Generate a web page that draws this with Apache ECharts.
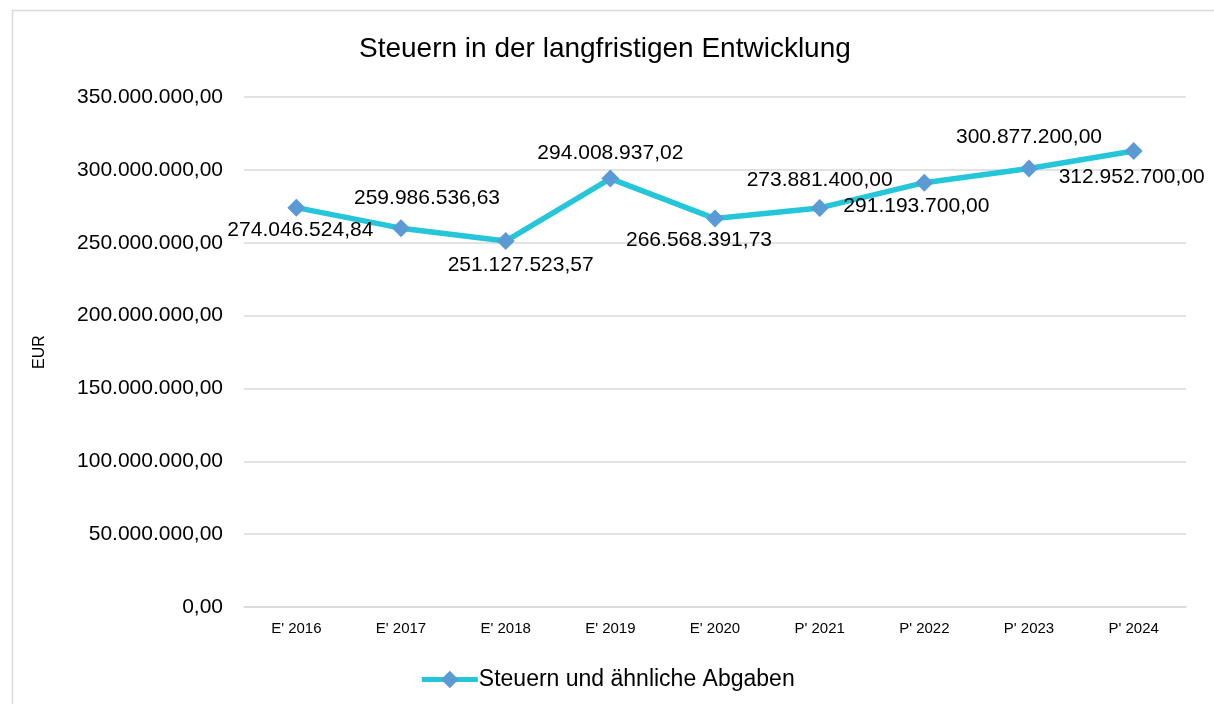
<!DOCTYPE html>
<html>
<head>
<meta charset="utf-8">
<script src="https://cdn.jsdelivr.net/npm/echarts@6/dist/echarts.min.js"></script>
<style>
  html, body { margin: 0; padding: 0; background: #fff; }
  #chart { width: 1214px; height: 704px; }
</style>
</head>
<body>
<div id="chart"></div>
<script>
// Daten
const categories = ["E' 2016", "E' 2017", "E' 2018", "E' 2019", "E' 2020", "P' 2021", "P' 2022", "P' 2023", "P' 2024"];
const steuern = [274046524.84, 259986536.63, 251127523.57, 294008937.02, 266568391.73, 273881400.00, 291193700.00, 300877200.00, 312952700.00];
const seriesName = 'Steuern und ähnliche Abgaben';
const titleText = 'Steuern in der langfristigen Entwicklung';
const axisName = 'EUR';

// Lage der Datenbeschriftungen (wie in Excel verschoben)
const labelOffsets = [[4, 23], [26, -30], [15, 24], [0, -25], [-16, 22], [0, -28], [-8, 24], [0, -31], [-2, 26]];

const FONT = "'Liberation Sans', Arial, sans-serif";

// deutsches Zahlenformat: 1.234.567,89
function fmt(v) {
  const parts = Number(v).toFixed(2).split('.');
  const int = parts[0].replace(/\B(?=(\d{3})+(?!\d))/g, '.');
  return int + ',' + parts[1];
}

const chart = echarts.init(document.getElementById('chart'), null, { renderer: 'canvas' });

const option = {
  backgroundColor: '#fff',
  textStyle: { fontFamily: FONT },
  animation: false,
  title: {
    text: titleText,
    left: 354,
    top: 30,
    textStyle: { fontFamily: FONT, fontSize: 28, fontWeight: 'normal', color: '#000' }
  },
  grid: {
    left: 244,
    right: 28,
    top: 97,
    bottom: 97
  },
  legend: {
    data: [seriesName],
    left: 'center',
    top: 663,
    itemWidth: 56,
    itemHeight: 22,
    itemGap: 4,
    lineStyle: { width: 5 },
    textStyle: { fontFamily: FONT, fontSize: 23, color: '#000', padding: [0, 0, 0, -4] }
  },
  xAxis: {
    type: 'category',
    data: categories,
    boundaryGap: true,
    axisTick: { show: false },
    axisLine: { lineStyle: { color: '#d9d9d9', width: 1.5 } },
    axisLabel: { fontFamily: FONT, fontSize: 15, color: '#000', margin: 14 }
  },
  yAxis: {
    type: 'value',
    min: 0,
    max: 350000000,
    interval: 50000000,
    name: axisName,
    nameLocation: 'middle',
    nameRotate: 90,
    nameGap: 196,
    nameTextStyle: { fontFamily: FONT, fontSize: 16, color: '#000' },
    axisLine: { show: false },
    axisTick: { show: false },
    splitLine: { lineStyle: { color: '#d9d9d9', width: 1.5 } },
    axisLabel: {
      fontFamily: FONT,
      fontSize: 21,
      color: '#000',
      margin: 21,
      formatter: function (v) { return fmt(v); }
    }
  },
  series: [
    {
      name: seriesName,
      type: 'line',
      data: steuern.map(function (v, i) {
        return {
          value: v,
          label: { offset: labelOffsets[i] }
        };
      }),
      symbol: 'diamond',
      symbolSize: 18,
      lineStyle: { color: '#26c6da', width: 5.5 },
      itemStyle: { color: '#5b9bd5' },
      label: {
        show: true,
        position: 'inside',
        fontFamily: FONT,
        fontSize: 21,
        color: '#000',
        formatter: function (p) { return fmt(p.value); }
      },
      z: 3
    }
  ],
  graphic: [
    {
      type: 'rect',
      silent: true,
      shape: { x: 12.5, y: 10.5, width: 1260, height: 720 },
      style: { fill: 'none', stroke: '#d9d9d9', lineWidth: 1.5 },
      z: -1
    }
  ]
};

chart.setOption(option);
</script>
</body>
</html>
